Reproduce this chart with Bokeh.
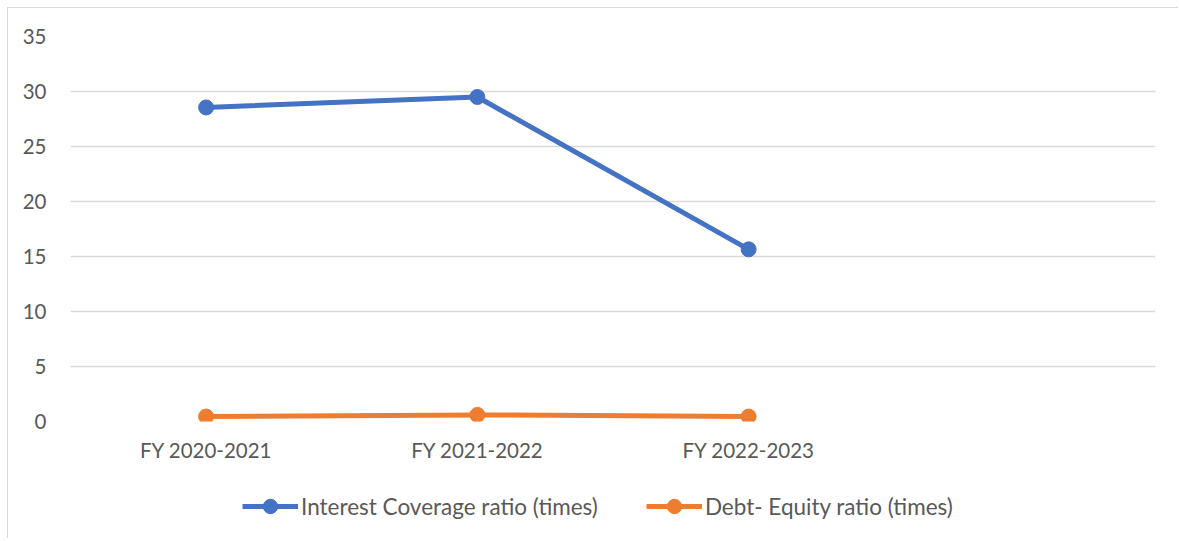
from bokeh.plotting import figure
from bokeh.layouts import column
from bokeh.models import FactorRange, Range1d, Legend, SingleIntervalTicker
from bokeh.embed import file_html
from bokeh.resources import INLINE

categories = ["FY 2020-2021", "FY 2021-2022", "FY 2022-2023"]
interest_coverage = [28.55, 29.5, 15.65]
debt_equity = [0.45, 0.6, 0.45]
series_names = ["Interest Coverage ratio (times)", "Debt- Equity ratio (times)"]
colors = ["#4472C4", "#ED7D31"]

FONT = "Lato"
TEXT = "#595959"

W, H1, H2 = 1170, 475, 55
p = figure(width=W, height=H1, output_backend="svg", toolbar_location=None,
           x_range=FactorRange(*categories, " ", range_padding=0),
           y_range=Range1d(0, 35),
           min_border_left=62, min_border_right=W - 1147,
           min_border_top=28, min_border_bottom=H1 - 413)
p.outline_line_color = None
p.background_fill_color = "white"
p.border_fill_color = "white"

p.yaxis.ticker = SingleIntervalTicker(interval=5)
p.ygrid.ticker = SingleIntervalTicker(interval=5)
p.ygrid.grid_line_color = "#D9D9D9"
p.ygrid.grid_line_width = 1.5
p.xgrid.grid_line_color = None

for ax in (p.xaxis, p.yaxis):
    ax.axis_line_color = None
    ax.major_tick_line_color = None
    ax.minor_tick_line_color = None
    ax.major_label_text_font = FONT
    ax.major_label_text_font_size = "20.5px"
    ax.major_label_text_color = TEXT
p.yaxis.major_label_standoff = 18
p.xaxis.major_label_standoff = 10

for vals, col in zip([interest_coverage, debt_equity], colors):
    p.line(categories, vals, line_color=col, line_width=5)
    p.scatter(categories, vals, size=15, fill_color=col, line_color=col)

# legend strip below the chart (series drawn out of view, only legend shows)
lg = figure(width=W, height=H2, output_backend="svg", toolbar_location=None,
            x_range=FactorRange(*categories, " ", range_padding=0),
            y_range=Range1d(100, 101),
            min_border=0, min_border_left=0, min_border_right=0,
            min_border_top=0, min_border_bottom=0)
lg.axis.visible = False
lg.grid.visible = False
lg.outline_line_color = None
lg.background_fill_color = "white"
lg.border_fill_color = "white"
items = []
for vals, name, col in zip([interest_coverage, debt_equity], series_names, colors):
    r1 = lg.line(categories, vals, line_color=col, line_width=5)
    r2 = lg.scatter(categories, vals, size=15, fill_color=col, line_color=col)
    items.append((name, [r1, r2]))
legend = Legend(items=items, orientation="horizontal", location=(172, 14))
legend.label_text_font = FONT
legend.label_text_font_size = "22.5px"
legend.label_text_color = TEXT
legend.glyph_width = 56
legend.glyph_height = 36
legend.label_standoff = 3
legend.spacing = 48
legend.border_line_color = None
legend.background_fill_alpha = 0
legend.margin = 0
legend.padding = 0
lg.add_layout(legend, "center")

layout = column(p, lg, spacing=0)
layout.margin = (7, 0, 0, 7)
layout.styles = {"border-left": "1px solid #d9d9d9", "border-top": "1px solid #d9d9d9"}

open("out.html", "w").write(file_html(layout, INLINE))
